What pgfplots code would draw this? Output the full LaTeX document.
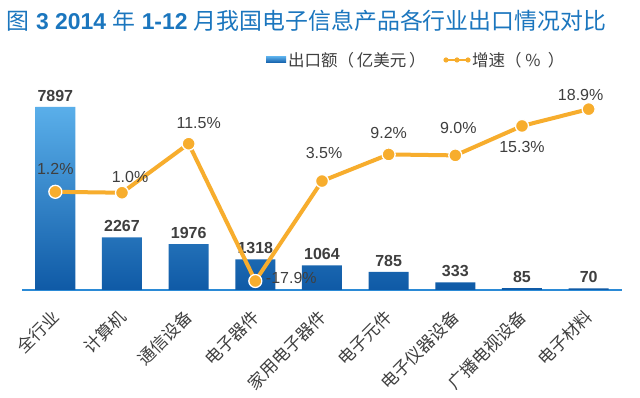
\documentclass[border=0pt]{standalone}
\usepackage{pgfplots}
\pgfplotsset{compat=1.18}
\usepackage{pgfplotstable}
\usepackage{fontspec}
\setmainfont{Liberation Sans}
\newfontfamily\cjk{Noto Sans CJK SC}
\definecolor{titleblue}{HTML}{1B76BE}
\definecolor{barTop}{HTML}{5AAFEA}
\definecolor{barBot}{HTML}{0F5AA6}
\definecolor{axisblue}{HTML}{2B8AD6}
\definecolor{lineorange}{HTML}{F7AD2D}
\definecolor{txtgray}{HTML}{3F3F3F}

\pgfplotstableread{
x y
0 7897
1 2267
2 1976
3 1318
4 1064
5 785
6 333
7 85
8 70
}\exports

\pgfplotstableread{
x y xs ys
0 1.2 0 23
1 1.0 8 16
2 11.5 10 21
3 -17.9 36 3
4 3.5 2 28
5 9.2 0 21
6 9.0 3 27
7 15.3 0 -21
8 18.9 -8 14
}\growth

\begin{document}
\begin{tikzpicture}[x=1pt,y=1pt]
\path[use as bounding box] (0,0) rectangle (640,398);
\fill[white] (0,0) rectangle (640,398);
\node[text=titleblue, inner sep=0pt] at (306.5,377)
  {\fontsize{22.9}{24}\selectfont\cjk 图\bfseries\rmfamily\ 3 2014 \cjk\mdseries 年\rmfamily\bfseries\ 1-12 \cjk\mdseries 月我国电子信息产品各行业出口情况对比};
% legend
\shade[top color=barTop,bottom color=barBot] (266,335) rectangle (286,341.5);
\node[anchor=west, inner sep=0pt, text=txtgray, font=\cjk\fontsize{16.5}{16}\selectfont] at (288,338) {出口额（\,亿美元\,）};
\draw[lineorange, line width=1.5pt] (445,338) -- (468,338);
\foreach \dx in {446,457,468} \fill[lineorange] (\dx,338) circle (2.6);
\node[anchor=west, inner sep=0pt, text=txtgray, font=\cjk\fontsize{16.5}{16}\selectfont] at (472,338) {增速（\ \% \ ）};

\begin{axis}[
  at={(22pt,108pt)}, anchor=south west,
  scale only axis, width=600pt, height=190pt,
  xmin=-0.5, xmax=8.5, ymin=0, ymax=8190,
  hide y axis,
  axis x line*=bottom,
  x axis line style={draw=axisblue, line width=1.5pt, -},
  xtick={0,...,8},
  xticklabels={全行业,计算机,通信设备,电子器件,家用电子器件,电子元件,电子仪器设备,广播电视设备,电子材料},
  xticklabel style={xshift=-5pt, yshift=-17pt, rotate=45, anchor=north east, font=\cjk\fontsize{17}{17}\selectfont, text=txtgray, inner sep=1pt},
  major tick length=0pt,
  /pgf/number format/1000 sep={},
  /pgf/number format/assume math mode=true,
  clip=false,
]
\addplot[ybar, bar width=40pt, draw=none, top color=barTop, bottom color=barBot,
  nodes near coords,
  nodes near coords style={font=\bfseries\fontsize{16}{16}\selectfont, text=txtgray, yshift=2pt}]
  table[x=x,y=y]{\exports};
\end{axis}

\begin{axis}[
  at={(22pt,108pt)}, anchor=south west,
  scale only axis, width=600pt, height=190pt,
  xmin=-0.5, xmax=8.5, ymin=-19.83, ymax=20.86,
  hide axis, clip=false,
  /pgf/number format/assume math mode=true,
]
\addplot[color=lineorange, line width=4pt, mark=*,
  mark options={fill=lineorange, draw=white, line width=1.3pt}, mark size=6.5pt,
  visualization depends on={\thisrow{xs} \as \xs},
  visualization depends on={\thisrow{ys} \as \ys},
  nodes near coords={\pgfmathprintnumber[fixed,fixed zerofill,precision=1]{\pgfplotspointmeta}\%},
  nodes near coords style={anchor=center, xshift=\xs pt, yshift=\ys pt, font=\fontsize{16}{16}\selectfont, text=txtgray}]
  table[x=x,y=y]{\growth};
\end{axis}
\end{tikzpicture}
\end{document}
